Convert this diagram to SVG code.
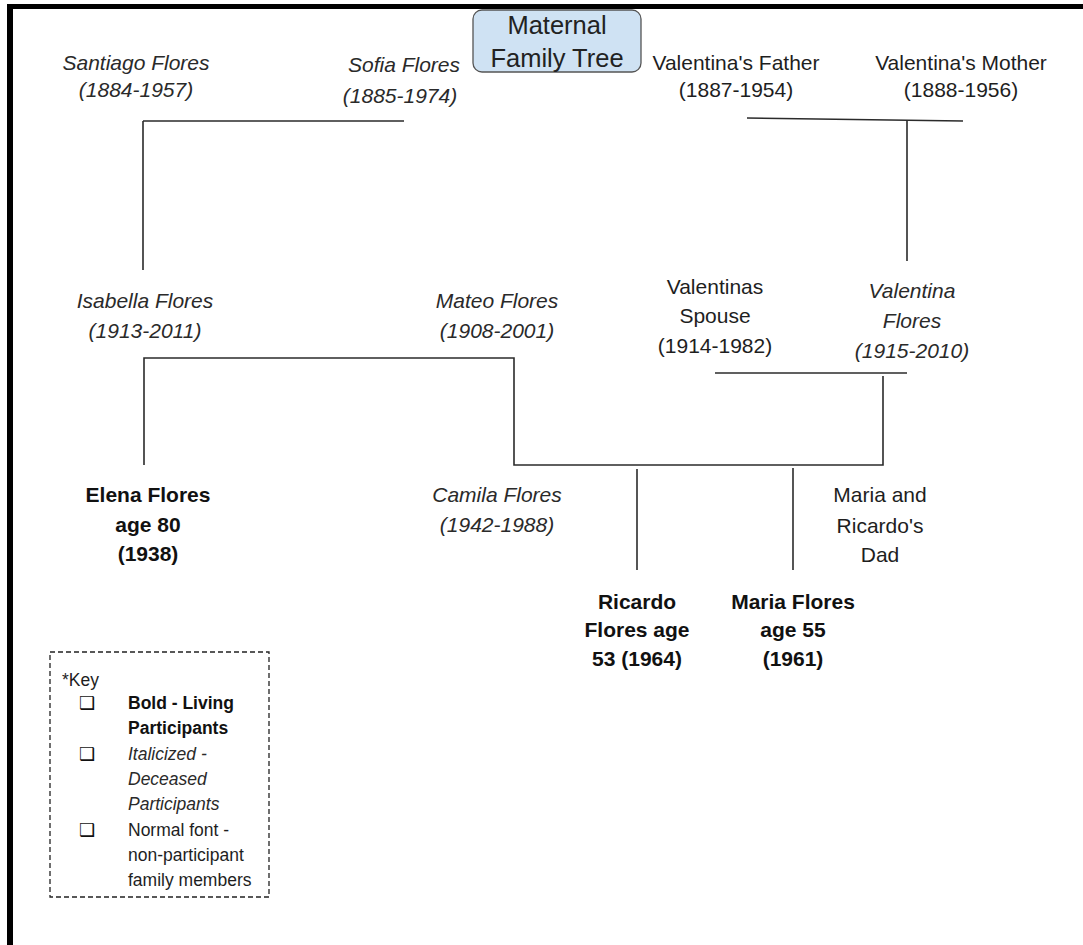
<svg xmlns="http://www.w3.org/2000/svg" width="1083" height="945" viewBox="0 0 1083 945">
  <style>
    text { font-family: "Liberation Sans", Arial, sans-serif; font-size: 21px; fill: #1e1e1e; text-anchor: middle; }
    .it { font-style: italic; fill: #2a2a2a; }
    .bd { font-weight: bold; fill: #111; }
    .title { font-size: 25.5px; fill: #222; }
    .key { font-size: 17.5px; text-anchor: start; }
    .box { font-family: "DejaVu Sans", sans-serif; font-size: 18px; text-anchor: middle; fill: #111; }
    .link { stroke: #2b2b2b; stroke-width: 1.6; fill: none; }
  </style>

  <rect width="1083" height="945" fill="#ffffff"/>

  <!-- page frame -->
  <g id="frame" fill="#000">
    <rect x="7" y="4" width="1076" height="5"/>
    <rect x="7" y="4" width="6" height="941"/>
  </g>

  <!-- title -->
  <g id="title">
    <rect x="473" y="10" width="168" height="62" rx="9" fill="#cfe2f3" stroke="#555" stroke-width="1.3"/>
    <text class="title" x="557" y="34">Maternal</text>
    <text class="title" x="557" y="67">Family Tree</text>
  </g>

  <!-- connectors -->
  <g id="connectors" class="link">
    <path d="M143 121 H404 M143 121 V270"/>
    <path d="M747 118 L963 121 M907 121 V261"/>
    <path d="M144 465 V358 H514 V465 H883 V376"/>
    <path d="M715 373 H907"/>
    <path d="M637 469 V570"/>
    <path d="M793 468 V570"/>
  </g>

  <!-- people -->
  <g id="santiago">
    <text class="it" x="136" y="70">Santiago Flores</text>
    <text class="it" x="136" y="97">(1884-1957)</text>
  </g>
  <g id="sofia">
    <text class="it" x="404" y="72">Sofia Flores</text>
    <text class="it" x="400" y="103">(1885-1974)</text>
  </g>
  <g id="valentina-father">
    <text x="736" y="70">Valentina's Father</text>
    <text x="736" y="97">(1887-1954)</text>
  </g>
  <g id="valentina-mother">
    <text x="961" y="70">Valentina's Mother</text>
    <text x="961" y="97">(1888-1956)</text>
  </g>
  <g id="isabella">
    <text class="it" x="145" y="308">Isabella Flores</text>
    <text class="it" x="145" y="338">(1913-2011)</text>
  </g>
  <g id="mateo">
    <text class="it" x="497" y="308">Mateo Flores</text>
    <text class="it" x="497" y="338">(1908-2001)</text>
  </g>
  <g id="valentinas-spouse">
    <text x="715" y="294">Valentinas</text>
    <text x="715" y="323">Spouse</text>
    <text x="715" y="353">(1914-1982)</text>
  </g>
  <g id="valentina">
    <text class="it" x="912" y="298">Valentina</text>
    <text class="it" x="912" y="328">Flores</text>
    <text class="it" x="912" y="358">(1915-2010)</text>
  </g>
  <g id="elena">
    <text class="bd" x="148" y="502">Elena Flores</text>
    <text class="bd" x="148" y="532">age 80</text>
    <text class="bd" x="148" y="561">(1938)</text>
  </g>
  <g id="camila">
    <text class="it" x="497" y="502">Camila Flores</text>
    <text class="it" x="497" y="532">(1942-1988)</text>
  </g>
  <g id="dad">
    <text x="880" y="502">Maria and</text>
    <text x="880" y="533">Ricardo's</text>
    <text x="880" y="562">Dad</text>
  </g>
  <g id="ricardo">
    <text class="bd" x="637" y="609">Ricardo</text>
    <text class="bd" x="637" y="637">Flores age</text>
    <text class="bd" x="637" y="666">53 (1964)</text>
  </g>
  <g id="maria">
    <text class="bd" x="793" y="609">Maria Flores</text>
    <text class="bd" x="793" y="637">age 55</text>
    <text class="bd" x="793" y="666">(1961)</text>
  </g>

  <!-- legend -->
  <g id="key">
    <rect x="50" y="652" width="219" height="245" fill="none" stroke="#222" stroke-width="1.3" stroke-dasharray="5 3"/>
    <text class="key" x="62" y="686">*Key</text>
    <text class="box" x="87" y="709">❑</text>
    <text class="key bd" x="128" y="709">Bold - Living</text>
    <text class="key bd" x="128" y="734">Participants</text>
    <text class="box" x="87" y="760">❑</text>
    <text class="key it" x="128" y="760">Italicized -</text>
    <text class="key it" x="128" y="785">Deceased</text>
    <text class="key it" x="128" y="810">Participants</text>
    <text class="box" x="87" y="836">❑</text>
    <text class="key" x="128" y="836">Normal font -</text>
    <text class="key" x="128" y="861">non-participant</text>
    <text class="key" x="128" y="886">family members</text>
  </g>
</svg>
